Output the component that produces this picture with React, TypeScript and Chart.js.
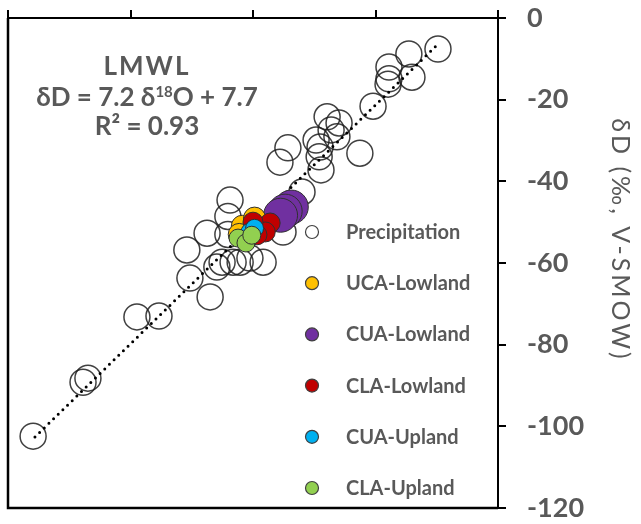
import React, { useEffect, useRef } from 'react';
import { Chart, registerables } from 'chart.js';

Chart.register(...registerables);

// ---- Data ----
const X_MIN = -16;
const X_MAX = 0;
const X_STEP = 4;
const Y_MIN = -120;
const Y_MAX = 0;
const Y_STEP = 20;

const SERIES_NAMES = ['Precipitation', 'UCA-Lowland', 'CUA-Lowland', 'CLA-Lowland', 'CUA-Upland', 'CLA-Upland'];

const precipX = [
  -1.96, -2.91, -3.56, -2.81, -3.56, -3.59, -4.08, -5.58, -5.19, -5.45,
  -5.26, -5.94, -4.51, -5.81, -5.84, -5.78, -6.86, -7.12, -6.4, -8.75,
  -8.82, -9.5, -10.16, -9.01, -8.65, -9.18, -7.67, -8.1, -10.06, -9.4,
  -11.79, -11.07, -13.55, -13.39, -15.18, -7.02, -8.42, -8.82,
];
const precipY = [
  -7.6, -8.8, -12.0, -14.5, -14.9, -16.2, -21.6, -24.2, -25.7, -27.4,
  -29.1, -29.9, -33.1, -31.6, -34.0, -37.2, -31.8, -35.3, -42.6, -44.6,
  -48.6, -52.7, -56.8, -59.8, -59.8, -61.0, -59.8, -58.8, -63.7, -68.3,
  -73.2, -73.0, -89.2, -88.2, -102.4, -52.4, -59.8, -53.0,
];

const ucaLowX = [-8.35, -7.95, -8.45];
const ucaLowY = [-51.0, -49.0, -53.0];

const cuaLowX = [-6.75, -6.95, -7.1];
const cuaLowY = [-46.3, -47.3, -48.3];

const claLowX = [-7.77, -7.44, -7.6, -8.0, -7.87];
const claLowY = [-51.2, -50.2, -52.4, -50.0, -53.1];

const cuaUpX = [-8.1, -7.95];
const cuaUpY = [-52.4, -51.5];

const claUpX = [-8.49, -8.23, -8.04];
const claUpY = [-53.9, -55.1, -53.2];

const lmwlX = [-15.12, -1.96];
const lmwlY = [-102.6, -6.4];

const ANNOT_TITLE = 'LMWL';
const ANNOT_EQ = ['δD = 7.2 δ', '18', 'O + 7.7'];
const ANNOT_R2 = 'R² = 0.93';
const Y_TITLE = 'δD (‰, V-SMOW)';

const pts = (xs: number[], ys: number[]) => xs.map((x, i) => ({ x, y: ys[i] }));

const GRAY = '#595959';
const FONT = 'Lato, "Open Sans", sans-serif';

const overlayPlugin = {
  id: 'overlay',
  afterDraw(chart: any) {
    const { ctx, chartArea: a } = chart;
    ctx.save();
    // left + bottom frame
    ctx.strokeStyle = '#000';
    ctx.lineWidth = 2.5;
    ctx.beginPath();
    ctx.moveTo(a.left, a.top);
    ctx.lineTo(a.left, a.bottom);
    ctx.lineTo(a.right, a.bottom);
    ctx.stroke();

    // annotation
    ctx.fillStyle = GRAY;
    ctx.textBaseline = 'alphabetic';
    ctx.textAlign = 'center';
    const cx = a.left + 139;
    ctx.font = `bold 26px ${FONT}`;
    try { (ctx as any).letterSpacing = '2px'; } catch (e) {}
    ctx.fillText(ANNOT_TITLE, cx, a.top + 57);
    try { (ctx as any).letterSpacing = '0px'; } catch (e) {}
    ctx.fillText(ANNOT_R2, cx, a.top + 117);
    // equation with superscript
    ctx.textAlign = 'left';
    const big = `bold 26px ${FONT}`;
    const small = `bold 15px ${FONT}`;
    ctx.font = big;
    const w0 = ctx.measureText(ANNOT_EQ[0]).width;
    const w2 = ctx.measureText(ANNOT_EQ[2]).width;
    ctx.font = small;
    const w1 = ctx.measureText(ANNOT_EQ[1]).width;
    let x = cx - (w0 + w1 + w2) / 2;
    const by = a.top + 88;
    ctx.font = big;
    ctx.fillText(ANNOT_EQ[0], x, by);
    x += w0;
    ctx.font = small;
    ctx.fillText(ANNOT_EQ[1], x, by - 9);
    x += w1;
    ctx.font = big;
    ctx.fillText(ANNOT_EQ[2], x, by);

    // legend
    const scatterSets = chart.data.datasets.filter((d: any) => !d.showLine);
    const legX = 312;
    const legY0 = 232;
    const legDy = 51.2;
    scatterSets.forEach((d: any, i: number) => {
      const y = legY0 + i * legDy;
      ctx.beginPath();
      ctx.arc(legX, y, 6.5, 0, Math.PI * 2);
      ctx.fillStyle = d.label === 'Precipitation' ? '#fff' : d.backgroundColor;
      ctx.fill();
      ctx.lineWidth = 1.2;
      ctx.strokeStyle = '#404040';
      ctx.stroke();
      ctx.fillStyle = GRAY;
      ctx.font = `bold 20px ${FONT}`;
      ctx.textAlign = 'left';
      ctx.fillText(d.label, legX + 34, y + 7);
    });

    // y-axis title
    ctx.save();
    ctx.translate(620, 240);
    ctx.rotate(Math.PI / 2);
    ctx.font = `25px ${FONT}`;
    ctx.fillStyle = GRAY;
    ctx.textAlign = 'center';
    ctx.textBaseline = 'middle';
    try { (ctx as any).letterSpacing = '3px'; } catch (e) {}
    ctx.fillText(Y_TITLE, 0, 0);
    ctx.restore();

    ctx.restore();
  },
};

export default function App() {
  const ref = useRef<HTMLCanvasElement | null>(null);
  useEffect(() => {
    if (!ref.current) return;
    const mk = (label: string, xs: number[], ys: number[], bg: string, r: number, order: number, border = '#303030', bw = 1) => ({
      label,
      data: pts(xs, ys),
      backgroundColor: bg,
      borderColor: border,
      borderWidth: bw,
      pointRadius: r,
      pointHoverRadius: r,
      order,
    });
    const chart = new Chart(ref.current, {
      type: 'scatter',
      data: {
        datasets: [
          mk(SERIES_NAMES[0], precipX, precipY, 'rgba(0,0,0,0)', 13, 10, 'rgba(30,30,30,0.85)', 1.5),
          mk(SERIES_NAMES[1], ucaLowX, ucaLowY, '#FFC000', 11, 7),
          mk(SERIES_NAMES[2], cuaLowX, cuaLowY, '#7030A0', 17, 8),
          mk(SERIES_NAMES[3], claLowX, claLowY, '#C00000', 10, 6),
          mk(SERIES_NAMES[4], cuaUpX, cuaUpY, '#00B0F0', 9, 5),
          mk(SERIES_NAMES[5], claUpX, claUpY, '#92D050', 9, 4),
          {
            label: 'LMWL',
            data: pts(lmwlX, lmwlY),
            showLine: true,
            borderColor: '#000',
            borderWidth: 3,
            borderDash: [0, 6.5],
            borderCapStyle: 'round',
            pointRadius: 0,
            pointHoverRadius: 0,
            fill: false,
            order: 9,
          } as any,
        ],
      },
      options: {
        animation: false,
        responsive: true,
        maintainAspectRatio: false,
        events: [],
        layout: { autoPadding: false, padding: { left: 8, top: 10, bottom: 16, right: 0 } },
        plugins: {
          legend: { display: false },
          tooltip: { enabled: false },
        },
        scales: {
          x: {
            type: 'linear',
            position: 'top',
            min: X_MIN,
            max: X_MAX,
            ticks: { stepSize: X_STEP, display: false },
            grid: { drawOnChartArea: false, drawTicks: true, tickLength: 8, tickColor: '#000', tickWidth: 2, color: '#000', lineWidth: 2 },
            border: { display: true, color: '#000', width: 2 },
            afterFit: (s: any) => { s.height = 8; s.paddingLeft = 0; s.paddingRight = 0; },
          },
          y: {
            type: 'linear',
            position: 'right',
            min: Y_MIN,
            max: Y_MAX,
            ticks: {
              stepSize: Y_STEP,
              color: GRAY,
              padding: 21,
              font: { family: FONT, size: 27, weight: 'bold' },
            },
            grid: { drawOnChartArea: false, drawTicks: true, tickLength: 8, tickColor: '#000', tickWidth: 2, color: '#000', lineWidth: 2 },
            border: { display: true, color: '#000', width: 2 },
            afterFit: (s: any) => { s.width = 143; s.paddingTop = 0; s.paddingBottom = 0; },
          },
        },
      },
      plugins: [overlayPlugin],
    } as any);
    return () => chart.destroy();
  }, []);
  return (
    <div style={{ position: 'absolute', left: 0, top: 0, width: 641, height: 524, background: '#fff' }}>
      <canvas ref={ref} />
    </div>
  );
}
